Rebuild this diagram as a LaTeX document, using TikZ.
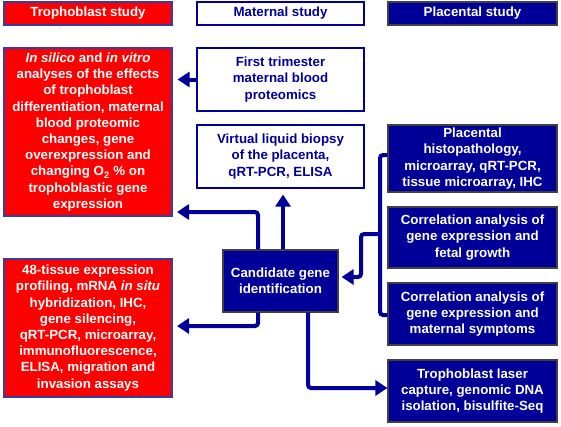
\documentclass[tikz,border=0pt]{standalone}
\usepackage{fontspec}
\setmainfont{Liberation Sans}
\usetikzlibrary{arrows.meta}
\definecolor{navy}{RGB}{0,0,153}
\definecolor{redbox}{RGB}{255,0,0}
\definecolor{redline}{RGB}{50,60,170}

\begin{document}
\begin{tikzpicture}[x=1pt,y=-1pt,
    every node/.style={font=\bfseries\fontsize{13.3}{16.2}\selectfont, align=center, inner sep=1pt},
    troph/.style={draw=redline, fill=redbox, text=white, line width=1.2pt, minimum width=168pt},
    mater/.style={draw=navy, fill=white, text=navy, line width=1.2pt, minimum width=167pt},
    placen/.style={draw=black!75, fill=navy, text=white, line width=1.2pt, minimum width=169pt},
    flow/.style={draw=navy, line width=4pt, rounded corners=3pt, -{Triangle[length=12pt,width=15pt]}}]
      \useasboundingbox (0,0) rectangle (561,426);
      % column heads
      \node [troph, minimum height=23pt] (hT) at (88,13.5) {Trophoblast study};
      \node [mater, minimum height=23pt] (hM) at (280.5,13.5) {Maternal study};
      \node [placen, minimum height=23pt] (hP) at (472.5,13.5) {Placental study};
      % trophoblast column
      \node [troph, minimum height=168pt] (tA) at (88,132)
          {\textit{In silico} and \textit{in vitro}\\analyses of the effects\\of trophoblast\\differentiation, maternal\\blood proteomic\\changes, gene\\overexpression and\\changing O\textsubscript{2} \% on\\trophoblastic gene\\expression};
      \node [troph, minimum height=138pt] (tB) at (88,328)
          {48-tissue expression\\profiling, mRNA \textit{in situ}\\hybridization, IHC,\\gene silencing,\\qRT-PCR, microarray,\\immunofluorescence,\\ELISA, migration and\\invasion assays};
      % maternal column
      \node [mater, minimum height=63pt] (mA) at (280.5,79.5) {First trimester\\maternal blood\\proteomics};
      \node [mater, minimum height=63pt] (mB) at (280.5,156.5) {Virtual liquid biopsy\\of the placenta,\\qRT-PCR, ELISA};
      \node [placen, minimum width=115pt, minimum height=62pt] (cand) at (280.5,281) {Candidate gene\\identification};
      % placental column
      \node [placen, minimum height=67pt] (pA) at (472.5,158.5) {Placental\\histopathology,\\microarray, qRT-PCR,\\tissue microarray, IHC};
      \node [placen, minimum height=61pt] (pB) at (472.5,237.5) {Correlation analysis of\\gene expression and\\fetal growth};
      \node [placen, minimum height=62pt] (pC) at (472.5,314) {Correlation analysis of\\gene expression and\\maternal symptoms};
      \node [placen, minimum height=62pt] (pD) at (472.5,391) {Trophoblast laser\\capture, genomic DNA\\isolation, bisulfite-Seq};
      % connectors
      \coordinate (tAin) at (172,212);
      \coordinate (tBin) at (172,326);
      \coordinate (split) at (380,234);
      \coordinate (bend) at (361,234);
      \draw [flow, shorten >=5pt] (mA.west) -- (mA.west -| tA.east);
      \draw [flow, shorten >=5pt] ([xshift=-22.5pt]cand.north) |- (tAin);
      \draw [flow, shorten >=6pt] ([xshift=2.5pt]cand.north) -- ([xshift=2.5pt]mB.south);
      \draw [flow, shorten >=5pt] ([xshift=-22.5pt]cand.south) |- (tBin);
      \draw [flow] ([xshift=27.5pt]cand.south) |- ([yshift=3pt]pD.west);
      \draw [flow, -] ([yshift=3.5pt]pA.west) -| (split) |- ([yshift=-1pt]pC.west);
      \draw [flow, shorten >=3pt] (split) -- (bend) |- ([yshift=4pt]cand.east);
\end{tikzpicture}
\end{document}
